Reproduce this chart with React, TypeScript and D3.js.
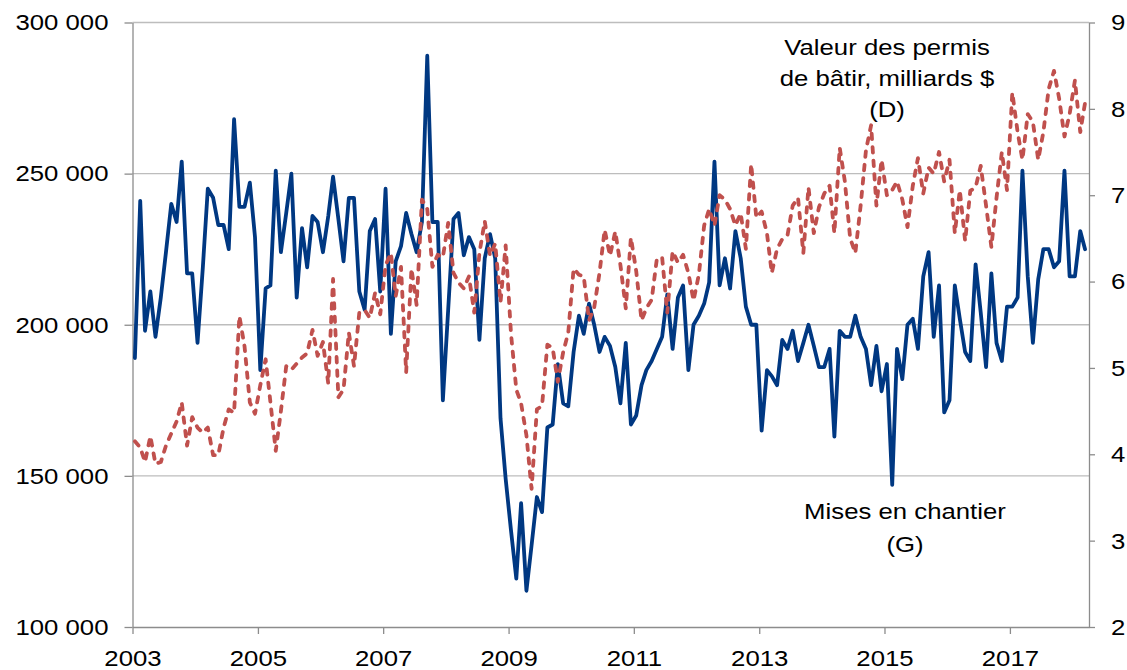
import React, { useEffect, useRef } from 'react';
import * as d3 from 'd3';

// Mises en chantier, milliers d'unités (axe de gauche), mensuel depuis janvier 2003
const startsThousands: number[] = [
  189, 241, 198, 211, 196, 209, 224, 240, 234, 254, 217, 217,
  194, 219, 245, 242, 233, 233, 225, 268, 239, 239, 247, 229,
  185, 212, 213, 251, 224, 237, 250, 209, 232, 219, 236, 234,
  224, 236, 249, 235, 221, 242, 242, 211, 205, 231, 235, 211,
  245, 197, 221, 226, 237, 230, 224, 234, 289, 234, 234, 175,
  205, 235, 237, 223, 229, 225, 195, 222, 230, 222, 169, 149,
  132, 116, 141, 112, 127, 143, 138, 166, 167, 187, 174, 173,
  191, 203, 197, 207, 200, 191, 196, 193, 186, 174, 194, 167,
  170, 180, 185, 188, 192, 196, 210, 192, 209, 213, 185, 200,
  203, 207, 214, 254, 213, 222, 212, 231, 222, 206, 200, 200,
  165, 185, 183, 180, 195, 192, 198, 188, 194, 200, 193, 186,
  186, 192, 163, 198, 196, 196, 203, 196, 192, 180, 193, 178,
  187, 147, 192, 182, 200, 202, 192, 216, 224, 196, 213, 171,
  175, 213, 202, 191, 188, 220, 204, 186, 217, 194, 188, 206,
  206, 209, 251, 216, 194, 215, 225, 225, 219, 221, 251, 216,
  216, 231, 225
];

// Valeur des permis de bâtir, milliards $ (axe de droite)
const permitsBillions: number[] = [
  4.15, 4.08, 3.91, 4.21, 3.89, 3.91, 4.1, 4.24, 4.38, 4.6, 4.1, 4.43,
  4.31, 4.25, 4.31, 3.99, 3.99, 4.31, 4.52, 4.48, 5.6, 5.25, 4.6, 4.47,
  4.8, 5.1, 4.6, 4.04, 4.5, 5.02, 4.98, 5.05, 5.12, 5.17, 5.44, 5.14,
  5.3, 4.82, 6.03, 4.66, 4.75, 5.41, 5.02, 5.64, 5.67, 5.58, 5.87, 5.62,
  6.19, 6.33, 5.83, 6.17, 4.95, 6.15, 5.73, 6.95, 6.84, 6.17, 6.31, 6.28,
  6.68, 6.1, 5.99, 5.92, 6.06, 5.64, 6.33, 6.7, 6.3, 6.44, 5.76, 6.42,
  5.4, 4.75, 4.59, 4.22, 3.6, 4.52, 4.56, 5.27, 5.23, 4.84, 5.18, 5.41,
  6.15, 6.08, 6.06, 5.55, 5.7, 6.1, 6.6, 6.3, 6.58, 6.19, 5.69, 6.51,
  6.12, 5.55, 5.69, 5.79, 6.26, 6.28, 5.64, 6.35, 6.22, 6.31, 6.1, 5.78,
  6.08, 6.65, 6.84, 6.65, 7.0, 6.95, 6.84, 6.65, 6.79, 6.38, 7.36, 6.74,
  6.81, 6.56, 6.1, 6.38, 6.49, 6.54, 6.88, 6.97, 6.33, 7.09, 6.56, 6.86,
  7.02, 7.11, 6.56, 7.55, 7.16, 6.5, 6.33, 6.88, 7.52, 7.81, 6.88, 7.41,
  7.0, 7.06, 7.16, 6.95, 6.63, 7.11, 7.43, 7.02, 7.32, 7.25, 7.5, 7.16,
  7.41, 6.56, 7.06, 6.47, 7.05, 7.09, 7.34, 6.88, 6.4, 6.97, 7.5, 7.06,
  8.19, 7.73, 7.41, 7.94, 7.85, 7.41, 7.73, 8.23, 8.44, 8.12, 7.68, 7.94,
  8.33, 7.73, 8.07
];

const firstYear = 2003;
const leftTicks = [100000, 150000, 200000, 250000, 300000];
const rightTicks = [2, 3, 4, 5, 6, 7, 8, 9];
const yearTicks = [2003, 2005, 2007, 2009, 2011, 2013, 2015, 2017];
const permitsLabel = ['Valeur des permis', 'de bâtir, milliards $', '(D)'];
const startsLabel = ['Mises en chantier', '(G)'];

interface Point {
  date: Date;
  value: number;
}

const App: React.FC = () => {
  const chartRef = useRef<SVGSVGElement>(null);

  useEffect(() => {
    if (!chartRef.current) return;

    const svg = d3.select(chartRef.current);
    svg.selectAll('*').remove();

    const plot = { left: 132.5, right: 1089, top: 22.5, bottom: 627 };
    const font = '"Liberation Sans", Arial, sans-serif';
    const stretch = 1.12; // the source text is a bit wider than Arial
    const axisColor = '#8c8c8c';
    const gridColor = '#bdbdbd';
    const blue = '#003882';
    const red = '#c0504d';

    const monthDate = (i: number) => new Date(firstYear, i, 15);
    const starts: Point[] = startsThousands.map((v, i) => ({ date: monthDate(i), value: v * 1000 }));
    const permits: Point[] = permitsBillions.map((v, i) => ({ date: monthDate(i), value: v }));

    // Scales
    const x = d3.scaleTime()
      .domain([new Date(firstYear, 0, 1), new Date(2018, 3, 7)])
      .range([plot.left, plot.right]);
    const yLeft = d3.scaleLinear().domain([100000, 300000]).range([plot.bottom, plot.top]);
    const yRight = d3.scaleLinear().domain([2, 9]).range([plot.bottom, plot.top]);

    const fr = d3.formatLocale({ decimal: ',', thousands: ' ', grouping: [3], currency: ['', ' $'] });
    const formatLeft = fr.format(',d');

    const stretchText = (sel: d3.Selection<any, any, any, any>) =>
      sel.each(function () {
        const t = d3.select(this);
        t.attr('x', (+t.attr('x') || 0) / stretch).attr('transform', `scale(${stretch},1)`);
      });

    // Grid lines
    svg.append('g')
      .selectAll('line')
      .data(leftTicks.slice(1))
      .enter()
      .append('line')
      .attr('x1', plot.left)
      .attr('x2', plot.right)
      .attr('y1', d => yLeft(d))
      .attr('y2', d => yLeft(d))
      .attr('stroke', gridColor)
      .attr('stroke-width', 1.3);

    const styleAxis = (g: d3.Selection<SVGGElement, unknown, null, undefined>) => {
      g.attr('font-family', font).attr('font-size', 23);
      g.select('.domain').attr('stroke', axisColor).attr('stroke-width', 1.3);
      g.selectAll('.tick line').attr('stroke', axisColor).attr('stroke-width', 1.3);
      g.selectAll('.tick text').attr('fill', '#000');
      stretchText(g.selectAll('.tick text'));
    };

    // Axes
    svg.append('g')
      .attr('transform', `translate(${plot.left},0)`)
      .call(d3.axisLeft(yLeft).tickValues(leftTicks).tickSize(8).tickSizeOuter(0).tickPadding(16)
        .tickFormat(d => formatLeft(d as number)))
      .call(styleAxis);

    svg.append('g')
      .attr('transform', `translate(${plot.right},0)`)
      .call(d3.axisRight(yRight).tickValues(rightTicks).tickSize(6).tickSizeOuter(0).tickPadding(16)
        .tickFormat(d => String(d)))
      .call(styleAxis);

    svg.append('g')
      .attr('transform', `translate(0,${plot.bottom})`)
      .call(d3.axisBottom(x).tickValues(yearTicks.map(yr => new Date(yr, 0, 1))).tickSize(7)
        .tickSizeOuter(0).tickPadding(16).tickFormat(d => String((d as Date).getFullYear())))
      .call(styleAxis);

    // Lines
    const lineLeft = d3.line<Point>().x(d => x(d.date)).y(d => yLeft(d.value));
    const lineRight = d3.line<Point>().x(d => x(d.date)).y(d => yRight(d.value));

    svg.append('path')
      .datum(starts)
      .attr('d', lineLeft)
      .attr('fill', 'none')
      .attr('stroke', blue)
      .attr('stroke-width', 3.8)
      .attr('stroke-linejoin', 'round')
      .attr('stroke-linecap', 'round');

    svg.append('path')
      .datum(permits)
      .attr('d', lineRight)
      .attr('fill', 'none')
      .attr('stroke', red)
      .attr('stroke-width', 3.8)
      .attr('stroke-dasharray', '5.5,8')
      .attr('stroke-linejoin', 'round')
      .attr('stroke-linecap', 'round');

    // Series labels
    const addLabel = (lines: string[], cx: number, firstBaseline: number, gap: number) => {
      lines.forEach((l, k) => {
        svg.append('text')
          .attr('transform', `translate(${cx},${firstBaseline + k * gap}) scale(${stretch},1)`)
          .attr('text-anchor', 'middle')
          .attr('font-family', font)
          .attr('font-size', 23)
          .attr('fill', '#000')
          .text(l);
      });
    };
    addLabel(permitsLabel, 887, 55, 31);
    addLabel(startsLabel, 905, 519, 33);
  }, []);

  return (
    <svg
      ref={chartRef}
      width={1127}
      height={670}
      style={{ position: 'absolute', left: 0, top: 0, background: '#fff' }}
    />
  );
};

export default App;
